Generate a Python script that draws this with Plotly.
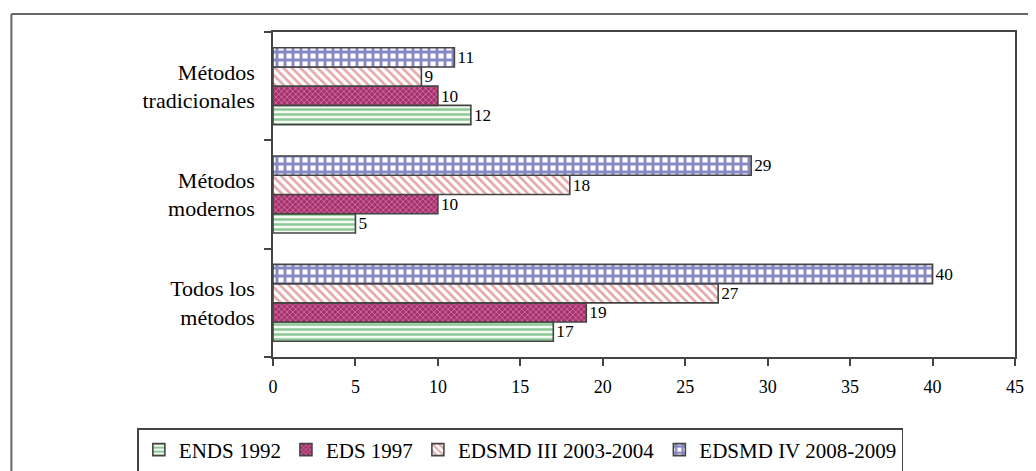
import plotly.graph_objects as go

categories = ["Todos los<br>métodos", "Métodos<br>modernos", "Métodos<br>tradicionales"]
series_names = ["ENDS 1992", "EDS 1997", "EDSMD III 2003-2004", "EDSMD IV 2008-2009"]
ends_1992 = [17, 5, 12]
eds_1997 = [19, 10, 10]
edsmd_iii = [27, 18, 9]
edsmd_iv = [40, 29, 11]
x_ticks = [0, 5, 10, 15, 20, 25, 30, 35, 40, 45]

values = [ends_1992, eds_1997, edsmd_iii, edsmd_iv]
patterns = [
    dict(shape="-", fgcolor="#27963a", bgcolor="#f4fbf2", size=5, solidity=0.5),
    dict(shape="x", fgcolor="#f2b6d6", bgcolor="#a62f6c", size=4, solidity=0.4),
    dict(shape="\\", fgcolor="#c84e4e", bgcolor="#ffffff", size=6, solidity=0.42),
    dict(shape="+", fgcolor="#12128c", bgcolor="#ffffff", size=8, solidity=0.6),
]

FONT = "Liberation Serif"

fig = go.Figure()
for name, vals, pat in zip(series_names, values, patterns):
    fig.add_trace(go.Bar(
        y=categories, x=vals, name=name, orientation="h",
        marker=dict(color=pat["bgcolor"], pattern=pat,
                    line=dict(color="#444444", width=1.6)),
        text=[str(v) for v in vals], textposition="outside",
        textfont=dict(family=FONT, size=18, color="black"),
        cliponaxis=False,
    ))

# page body has an 8px margin: work in screen pixels and shift
OFF = 8
W, H = 1036 - OFF, 471 - OFF
L, R, T, B = 272.7 - OFF, 1015 - OFF, 32 - OFF, 357 - OFF
pw, ph = R - L, B - T

def px_x(x):
    return (x - OFF - L) / pw

def px_y(y):
    return (B - (y - OFF)) / ph

fig.update_layout(
    width=W, height=H,
    margin=dict(l=L, r=W - R, t=T, b=H - B, pad=0, autoexpand=False),
    paper_bgcolor="white", plot_bgcolor="white",
    barmode="group", bargap=0.29, bargroupgap=0,
    font=dict(family=FONT, size=18, color="black"),
    showlegend=True,
    legend=dict(orientation="h", x=px_x(137), y=px_y(428),
                xanchor="left", yanchor="top",
                bordercolor="#444", borderwidth=1.5,
                font=dict(family=FONT, size=21, color="black"),
                traceorder="normal", itemwidth=30),
    xaxis=dict(range=[0, 45], tickvals=x_ticks, ticks="outside", ticklen=7,
               tickcolor="#444", tickwidth=1.5, automargin=False,
               showline=True, linecolor="#444", linewidth=1.5, mirror=True,
               showgrid=False, zeroline=False, ticklabelstandoff=6,
               tickfont=dict(family=FONT, size=18, color="black")),
    yaxis=dict(ticks="outside", ticklen=7, tickson="boundaries",
               tickcolor="#444", tickwidth=1.5, automargin=False,
               showline=True, linecolor="#444", linewidth=1.5, mirror=True,
               showgrid=False, ticklabelstandoff=12,
               tickfont=dict(family=FONT, size=22, color="black")),
)

# outer frame (left and top edges)
fig.add_shape(type="line", xref="paper", yref="paper",
              x0=px_x(11), x1=px_x(11), y0=px_y(14), y1=px_y(480),
              line=dict(color="#666", width=2))
fig.add_shape(type="line", xref="paper", yref="paper",
              x0=px_x(11), x1=px_x(1045), y0=px_y(14), y1=px_y(14),
              line=dict(color="#666", width=2))

fig.write_html("out.html")
